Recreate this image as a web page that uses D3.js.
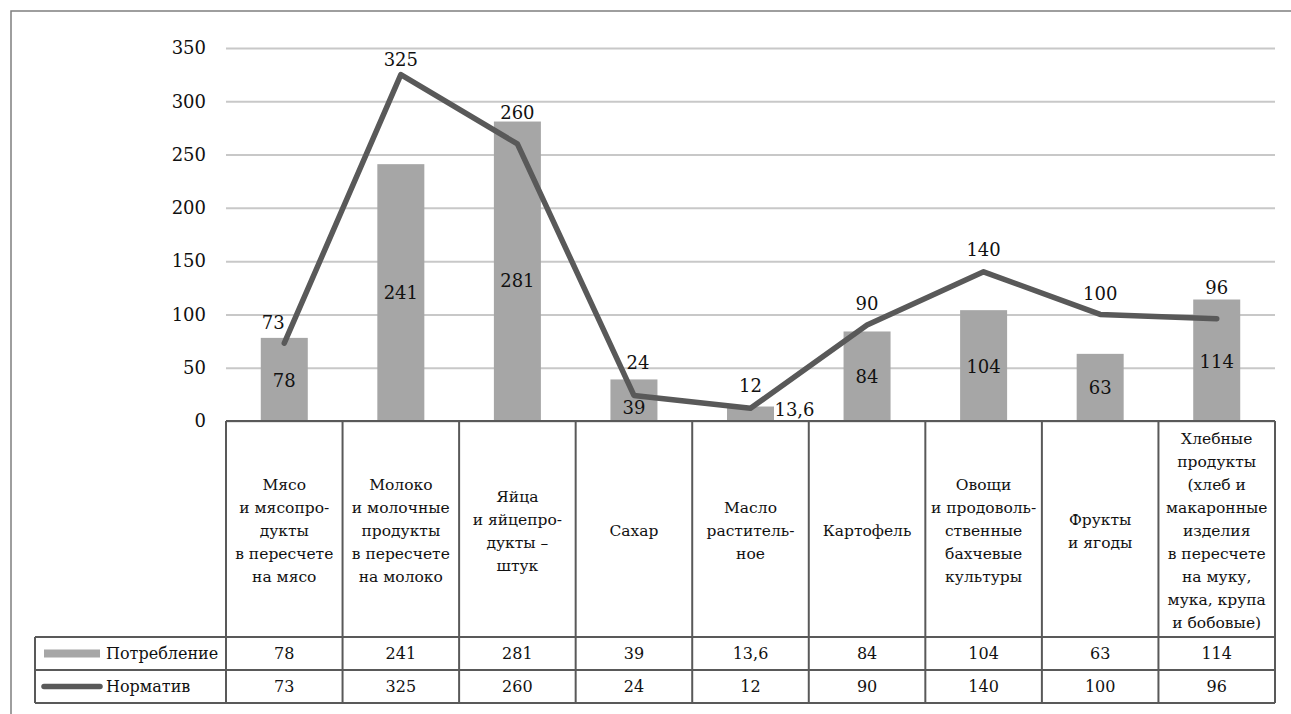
<!DOCTYPE html>
<html>
<head>
<meta charset="utf-8">
<script src="https://cdn.jsdelivr.net/npm/d3@7"></script>
<style>
  body { margin: 0; background: #fff; }
  text { fill: #111; }
</style>
</head>
<body>
<svg id="chart" width="1291" height="714"></svg>
<script>
// categories (multi-line labels for the table header)
const categories = [
  ["Мясо", "и мясопро-", "дукты", "в пересчете", "на мясо"],
  ["Молоко", "и молочные", "продукты", "в пересчете", "на молоко"],
  ["Яйца", "и яйцепро-", "дукты –", "штук"],
  ["Сахар"],
  ["Масло", "раститель-", "ное"],
  ["Картофель"],
  ["Овощи", "и продоволь-", "ственные", "бахчевые", "культуры"],
  ["Фрукты", "и ягоды"],
  ["Хлебные", "продукты", "(хлеб и", "макаронные", "изделия", "в пересчете", "на муку,", "мука, крупа", "и бобовые)"]
];
const consumption = [78, 241, 281, 39, 13.6, 84, 104, 63, 114];
const norm = [73, 325, 260, 24, 12, 90, 140, 100, 96];
const seriesNames = ["Потребление", "Норматив"];
const yTicks = [0, 50, 100, 150, 200, 250, 300, 350];

// manual label nudges (like dragged labels in the source chart)
const barLabelShift = [[0, 1], [0, 0], [0, 9], [0, 7], [44, -4], [0, 0], [0, 1], [0, 0], [0, 1]];
const lineLabelShift = [[-11, -21], [0, -15], [0, -31], [4, -33], [0, -23], [0, -22], [0, -22], [0, -21], [0, -31]];

const serif = "DejaVu Serif";
const fmt = v => String(v).replace(".", ",");

const svg = d3.select("#chart").attr("font-family", serif);
const plotLeft = 226, plotRight = 1275, plotTop = 48, base = 421;
const headerBottom = 637, rowH = 33, legendLeft = 35;

const x = d3.scaleBand().domain(d3.range(categories.length)).range([plotLeft, plotRight]);
const y = d3.scaleLinear().domain([0, 350]).range([base, plotTop]);

// outer frame (runs off the right and bottom edges)
svg.append("rect")
  .attr("x", 11).attr("y", 11).attr("width", 1300).attr("height", 720)
  .attr("fill", "none").attr("stroke", "#7f7f7f").attr("stroke-width", 1.5);

// gridlines + tick labels
const yAxis = d3.axisLeft(y).tickValues(yTicks).tickSize(-(plotRight - plotLeft)).tickPadding(20);
const ga = svg.append("g").attr("transform", `translate(${plotLeft},0)`).call(yAxis)
  .attr("font-family", serif).attr("font-size", 18);
ga.select(".domain").remove();
ga.selectAll(".tick line").attr("stroke", "#c8c8c8").attr("stroke-width", 2);
ga.selectAll(".tick text").attr("fill", "#111");

// bars
const barW = 47;
svg.append("g").selectAll("rect").data(consumption).join("rect")
  .attr("x", (d, i) => x(i) + x.bandwidth() / 2 - barW / 2)
  .attr("y", d => y(d))
  .attr("width", barW)
  .attr("height", d => base - y(d))
  .attr("fill", "#a6a6a6");

// line
const line = d3.line().x((d, i) => x(i) + x.bandwidth() / 2).y(d => y(d));
svg.append("path").datum(norm)
  .attr("d", line).attr("fill", "none")
  .attr("stroke", "#595959").attr("stroke-width", 5.5)
  .attr("stroke-linejoin", "round").attr("stroke-linecap", "round");

// bar labels
svg.append("g").selectAll("text").data(consumption).join("text")
  .attr("x", (d, i) => x(i) + x.bandwidth() / 2 + barLabelShift[i][0])
  .attr("y", (d, i) => (y(d) + base) / 2 + barLabelShift[i][1])
  .attr("text-anchor", "middle").attr("dominant-baseline", "central")
  .style("font-size", "18px")
  .text(fmt);

// line labels
svg.append("g").selectAll("text").data(norm).join("text")
  .attr("x", (d, i) => x(i) + x.bandwidth() / 2 + lineLabelShift[i][0])
  .attr("y", (d, i) => y(d) + lineLabelShift[i][1])
  .attr("text-anchor", "middle").attr("dominant-baseline", "central")
  .style("font-size", "18px")
  .text(fmt);

// data table
const tbl = svg.append("g").attr("stroke", "#595959").attr("stroke-width", 2);
const tableBottom = headerBottom + 2 * rowH;
tbl.append("line").attr("x1", plotLeft).attr("x2", plotRight).attr("y1", base).attr("y2", base);
[headerBottom, headerBottom + rowH, tableBottom].forEach(yy =>
  tbl.append("line").attr("x1", legendLeft).attr("x2", plotRight).attr("y1", yy).attr("y2", yy));
tbl.append("line").attr("x1", legendLeft).attr("x2", legendLeft).attr("y1", headerBottom).attr("y2", tableBottom);
d3.range(categories.length + 1).forEach(i => {
  const xx = i < categories.length ? x(i) : plotRight;
  tbl.append("line").attr("x1", xx).attr("x2", xx).attr("y1", base).attr("y2", tableBottom);
});

// category header text
const lh = 23, headerMid = 531;
categories.forEach((lines, i) => {
  const t = svg.append("text")
    .attr("x", x(i) + x.bandwidth() / 2)
    .attr("text-anchor", "middle")
    .style("font-size", "15.5px");
  lines.forEach((s, k) => {
    t.append("tspan")
      .attr("x", x(i) + x.bandwidth() / 2)
      .attr("y", headerMid - (lines.length - 1) * lh / 2 + k * lh)
      .attr("dominant-baseline", "central")
      .text(s);
  });
});

// table rows
[consumption, norm].forEach((vals, r) => {
  const cy = headerBottom + rowH * r + rowH / 2;
  svg.append("g").selectAll("text").data(vals).join("text")
    .attr("x", (d, i) => x(i) + x.bandwidth() / 2)
    .attr("y", cy)
    .attr("text-anchor", "middle").attr("dominant-baseline", "central")
    .style("font-size", "16px")
    .text(fmt);
  svg.append("text")
    .attr("x", 106).attr("y", cy)
    .attr("dominant-baseline", "central")
    .style("font-size", "16px")
    .text(seriesNames[r]);
});

// legend keys
const ly0 = headerBottom + rowH / 2, ly1 = headerBottom + rowH * 1.5;
svg.append("rect").attr("x", 44).attr("y", ly0 - 4).attr("width", 56).attr("height", 8).attr("fill", "#a6a6a6");
svg.append("line").attr("x1", 44).attr("x2", 100).attr("y1", ly1).attr("y2", ly1)
  .attr("stroke", "#595959").attr("stroke-width", 5.5).attr("stroke-linecap", "round");
</script>
</body>
</html>
